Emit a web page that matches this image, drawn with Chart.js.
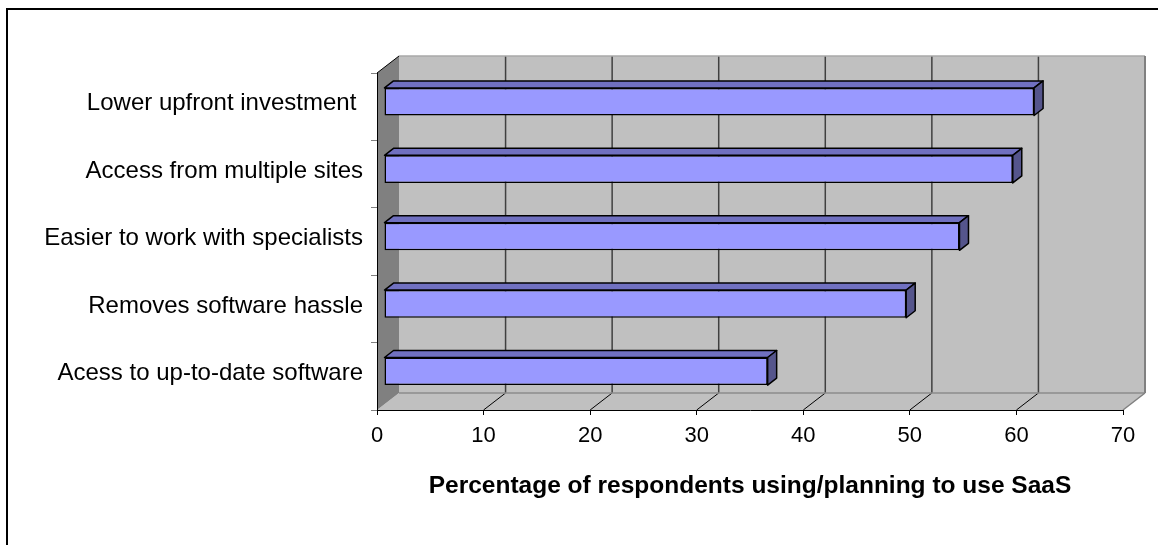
<!DOCTYPE html>
<html>
<head>
<meta charset="utf-8">
<title>Reasons for using SaaS</title>
<script src="https://cdn.jsdelivr.net/npm/chart.js@4.4.1/dist/chart.umd.min.js"></script>
<style>
  html, body { margin: 0; padding: 0; background: #fff; }
  #wrap { position: relative; width: 1158px; height: 545px; overflow: hidden; }
</style>
</head>
<body>
<div id="wrap"><canvas id="reasonsChart" width="1158" height="545"></canvas></div>
<script>
// Reasons given for using SaaS (% of respondents)
const categories = [
  'Lower upfront investment ',
  'Access from multiple sites',
  'Easier to work with specialists',
  'Removes software hassle',
  'Acess to up-to-date software'
];
const percentages = [61, 59, 54, 49, 36];
const xTicks = [0, 10, 20, 30, 40, 50, 60, 70];
const axisTitle = 'Percentage of respondents using/planning to use SaaS';

const FONT = "'Liberation Sans', Arial, sans-serif";

// fake 3D: depth of the walls, where the bars sit, and how thick they are
const WALL_DX = 22, WALL_DY = -17;
const BAR_DX = 7, BAR_DY = -5;
const DEPTH_X = 9, DEPTH_Y = -7;

function poly(ctx, pts, fill, stroke, lw) {
  ctx.beginPath();
  ctx.moveTo(pts[0][0], pts[0][1]);
  for (let i = 1; i < pts.length; i++) ctx.lineTo(pts[i][0], pts[i][1]);
  ctx.closePath();
  if (fill) { ctx.fillStyle = fill; ctx.fill(); }
  if (stroke) { ctx.strokeStyle = stroke; ctx.lineWidth = lw || 1; ctx.stroke(); }
}

function line(ctx, x1, y1, x2, y2, color, lw) {
  ctx.beginPath();
  ctx.moveTo(x1, y1);
  ctx.lineTo(x2, y2);
  ctx.strokeStyle = color;
  ctx.lineWidth = lw || 1;
  ctx.stroke();
}

// back wall, side wall, floor and the gridlines on them
const walls = {
  id: 'walls',
  beforeDraw(chart) {
    const { ctx, chartArea: a, scales: { x } } = chart;
    const L = a.left, R = a.right, T = a.top, B = a.bottom;
    ctx.save();

    ctx.strokeStyle = '#000';
    ctx.lineWidth = 2;
    ctx.strokeRect(7, 9, 1400, 800);

    ctx.fillStyle = '#c0c0c0';
    ctx.fillRect(L + WALL_DX, T + WALL_DY, R - L, B - T);
    poly(ctx, [[L, B], [L + WALL_DX, B + WALL_DY], [R + WALL_DX, B + WALL_DY], [R, B]], '#c0c0c0');
    poly(ctx, [[L, T], [L + WALL_DX, T + WALL_DY], [L + WALL_DX, B + WALL_DY], [L, B]], '#808080');

    xTicks.forEach((v, i) => {
      if (i === 0 || i === xTicks.length - 1) return;
      const px = x.getPixelForValue(v);
      line(ctx, px + WALL_DX, T + WALL_DY, px + WALL_DX, B + WALL_DY, '#404040', 1.5);
      line(ctx, px + WALL_DX, B + WALL_DY, px, B, '#000', 1);
    });

    line(ctx, L + WALL_DX, T + WALL_DY, R + WALL_DX, T + WALL_DY, '#a8a8a8', 1.5);
    line(ctx, R + WALL_DX, T + WALL_DY, R + WALL_DX, B + WALL_DY, '#808080', 2);
    line(ctx, L + WALL_DX, B + WALL_DY, R + WALL_DX, B + WALL_DY, '#8c8c8c', 1.5);
    line(ctx, R + WALL_DX, B + WALL_DY, R, B, '#808080', 1.5);
    line(ctx, L, T, L + WALL_DX, T + WALL_DY, '#000', 1);
    ctx.restore();
  }
};

// push bars back a little and add their top and end faces
const barDepth = {
  id: 'barDepth',
  beforeDatasetsDraw(chart) {
    chart.ctx.save();
    chart.ctx.translate(BAR_DX, BAR_DY);
  },
  afterDatasetsDraw(chart) {
    const ctx = chart.ctx;
    ctx.lineJoin = 'round';
    chart.getDatasetMeta(0).data.forEach(bar => {
      const { x, y, base, height } = bar.getProps(['x', 'y', 'base', 'height'], true);
      const top = y - height / 2, bottom = y + height / 2;
      poly(ctx, [[base, top], [base + DEPTH_X, top + DEPTH_Y], [x + DEPTH_X, top + DEPTH_Y], [x, top]], '#7070c0', '#000', 1.5);
      poly(ctx, [[x, top], [x + DEPTH_X, top + DEPTH_Y], [x + DEPTH_X, bottom + DEPTH_Y], [x, bottom]], '#55558c', '#000', 1.5);
    });
    ctx.restore();
  }
};

document.addEventListener('DOMContentLoaded', function() {
  const ctx = document.getElementById('reasonsChart').getContext('2d');

  new Chart(ctx, {
    type: 'bar',
    data: {
      labels: categories,
      datasets: [{
        data: percentages,
        backgroundColor: '#9999ff',
        borderColor: '#000',
        borderWidth: 1.5,
        borderSkipped: false,
        barPercentage: 0.41,
        categoryPercentage: 1
      }]
    },
    options: {
      indexAxis: 'y',
      responsive: false,
      animation: false,
      layout: { padding: { top: 73, right: 35, left: 0, bottom: 0 } },
      plugins: {
        legend: { display: false },
        tooltip: { enabled: false }
      },
      scales: {
        x: {
          min: 0,
          max: 70,
          afterBuildTicks: s => { s.ticks = xTicks.map(v => ({ value: v })); },
          ticks: { color: '#000', font: { family: FONT, size: 22 }, padding: 8, maxRotation: 0, autoSkip: false },
          grid: { drawOnChartArea: false, tickLength: 5, color: '#000' },
          border: { color: '#000', width: 1 },
          title: {
            display: true,
            text: axisTitle,
            color: '#000',
            font: { family: FONT, size: 24.5, weight: 'bold' },
            padding: { top: 0, bottom: 44 }
          },
          afterFit: s => { s.height = 135; }
        },
        y: {
          ticks: { color: '#000', font: { family: FONT, size: 24 }, padding: 8, labelOffset: -3 },
          grid: { drawOnChartArea: false, tickLength: 6, color: '#808080' },
          border: { color: '#000', width: 1 },
          afterFit: s => { s.width = 377; }
        }
      }
    },
    plugins: [walls, barDepth]
  });
});
</script>
</body>
</html>
